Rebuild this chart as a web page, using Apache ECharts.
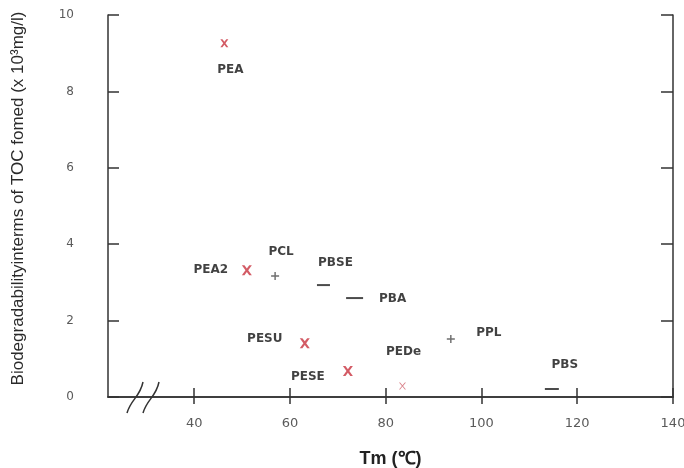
<!DOCTYPE html>
<html>
<head>
<meta charset="utf-8">
<script src="https://cdn.jsdelivr.net/npm/echarts@6/dist/echarts.min.js"></script>
<style>
html,body{margin:0;padding:0;background:#ffffff;}
#chart{width:684px;height:468px;}
</style>
</head>
<body>
<div id="chart"></div>
<script>
// ---- data ----
const polymers  = ['PEA', 'PEA2', 'PESU', 'PESE', 'PEDe', 'PCL', 'PPL', 'PBSE', 'PBA', 'PBS'];
const tmValues  = [46.3, 51.0, 63.1, 72.1, 83.5, 56.9, 93.6, 67.0, 73.5, 114.7];
const bioValues = [9.26, 3.32, 1.41, 0.68, 0.29, 3.17, 1.52, 2.93, 2.59, 0.21];
const crossGroup = ['PEA', 'PEA2', 'PESU', 'PESE', 'PEDe'];
const plusGroup  = ['PCL', 'PPL'];
const dashGroup  = ['PBSE', 'PBA', 'PBS'];
const xTickValues = [40, 60, 80, 100, 120, 140];

// ---- styling (kept apart from the data) ----
const labelOffsets = {
  PEA: [6, 27], PEA2: [-36, 0], PESU: [-40, -4], PESE: [-40, 6], PEDe: [1, -34],
  PCL: [6, -24], PPL: [38, -6], PBSE: [12, -22], PBA: [38, 1], PBS: [13, -24]
};
const symbolSizes = {
  PEA: 8, PEA2: 10, PESU: 10, PESE: 10, PEDe: 7,
  PCL: 8, PPL: 8, PBSE: [13, 2], PBA: [17, 2], PBS: [14, 2]
};
const crossPath = 'path://M0,0L2.6,0L5,3.2L7.4,0L10,0L6.4,5L10,10L7.4,10L5,6.8L2.6,10L0,10L3.6,5Z';
const thinCrossPath = 'path://M0,0L1.6,0L5,4.1L8.4,0L10,0L5.8,5L10,10L8.4,10L5,5.9L1.6,10L0,10L4.2,5Z';
const plusPath = 'path://M4.1,0L5.9,0L5.9,4.1L10,4.1L10,5.9L5.9,5.9L5.9,10L4.1,10L4.1,5.9L0,5.9L0,4.1L4.1,4.1Z';

function buildData(group) {
  return group.map(function (name) {
    const i = polymers.indexOf(name);
    return {
      name: name,
      value: [tmValues[i], bioValues[i]],
      symbolSize: symbolSizes[name],
      symbol: name === 'PEDe' ? thinCrossPath : undefined,
      itemStyle: name === 'PEDe' ? { color: '#d0606a' } : undefined,
      label: { offset: labelOffsets[name] }
    };
  });
}

const pointLabel = {
  show: true,
  position: 'inside',
  formatter: '{b}',
  color: '#111111',
  fontFamily: 'DejaVu Sans',
  fontWeight: 'bold',
  fontSize: 12
};

const axisLineStyle = { color: '#333333', width: 1.5 };

const chart = echarts.init(document.getElementById('chart'), null, { renderer: 'canvas' });

chart.setOption({
  animation: false,
  backgroundColor: '#ffffff',
  grid: { left: 108, right: 11, top: 15, bottom: 71, containLabel: false, outerBoundsMode: 'none' },
  xAxis: [
    {
      type: 'value', position: 'bottom', min: 22, max: 140,
      name: 'Tm (℃)', nameLocation: 'middle', nameGap: 53,
      nameTextStyle: { fontFamily: 'Liberation Sans', fontWeight: 'bold', fontSize: 18, color: '#222222' },
      axisLine: { show: true, lineStyle: axisLineStyle },
      axisTick: { show: true, inside: true, length: 9, customValues: xTickValues, lineStyle: axisLineStyle },
      axisLabel: { show: true, customValues: xTickValues, margin: 20, fontFamily: 'DejaVu Sans', fontSize: 13, color: '#5a5a5a' },
      splitLine: { show: false }
    },
    {
      type: 'value', position: 'top', min: 22, max: 140,
      axisLine: { show: true, lineStyle: axisLineStyle },
      axisTick: { show: true, inside: true, length: 7, customValues: xTickValues, lineStyle: axisLineStyle },
      axisLabel: { show: false },
      splitLine: { show: false }
    }
  ],
  yAxis: [
    {
      type: 'value', position: 'left', min: 0, max: 10, interval: 2,
      name: 'Biodegradabilityinterms of TOC fomed (x 10³mg/l)',
      nameLocation: 'middle', nameGap: 81,
      nameTextStyle: { fontFamily: 'Liberation Sans', fontSize: 17, color: '#2a2a2a', padding: [0, 0, 0, 15] },
      axisLine: { show: true, lineStyle: axisLineStyle },
      axisTick: { show: true, inside: true, length: 11, lineStyle: axisLineStyle },
      axisLabel: { show: true, margin: 34, fontFamily: 'DejaVu Sans', fontSize: 12, color: '#5a5a5a' },
      splitLine: { show: false }
    },
    {
      type: 'value', position: 'right', min: 0, max: 10, interval: 2,
      axisLine: { show: true, lineStyle: axisLineStyle },
      axisTick: { show: true, inside: true, length: 12, lineStyle: axisLineStyle },
      axisLabel: { show: false },
      splitLine: { show: false }
    }
  ],
  series: [
    {
      type: 'scatter', name: 'cross', symbol: crossPath,
      itemStyle: { color: '#c8323e' },
      label: pointLabel,
      data: buildData(crossGroup)
    },
    {
      type: 'scatter', name: 'plus', symbol: plusPath,
      itemStyle: { color: '#4a4a4a' },
      label: pointLabel,
      data: buildData(plusGroup)
    },
    {
      type: 'scatter', name: 'dash', symbol: 'rect',
      itemStyle: { color: '#1e1e1e' },
      label: pointLabel,
      data: buildData(dashGroup)
    }
  ],
  graphic: [
    {
      type: 'bezierCurve', z: 100,
      shape: { x1: 127, y1: 413, cpx1: 131, cpy1: 399, cpx2: 140, cpy2: 397, x2: 143, y2: 382 },
      style: { stroke: '#333333', lineWidth: 1.5, fill: null }
    },
    {
      type: 'bezierCurve', z: 100,
      shape: { x1: 143, y1: 413, cpx1: 147, cpy1: 399, cpx2: 156, cpy2: 397, x2: 159, y2: 382 },
      style: { stroke: '#333333', lineWidth: 1.5, fill: null }
    }
  ]
});
</script>
</body>
</html>
